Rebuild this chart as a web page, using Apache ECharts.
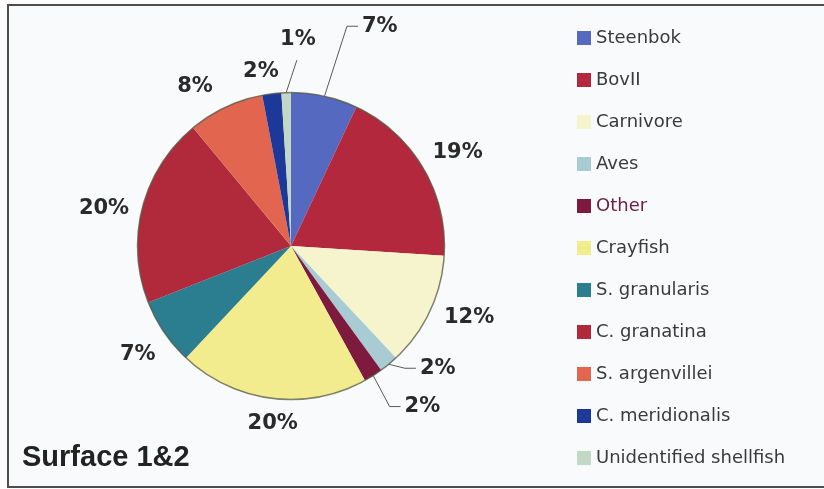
<!DOCTYPE html>
<html>
<head>
<meta charset="utf-8">
<script src="https://cdn.jsdelivr.net/npm/echarts@6/dist/echarts.min.js"></script>
<style>
  html, body { margin: 0; padding: 0; background: #fcfcfc; }
  #chart { width: 824px; height: 489px; }
</style>
</head>
<body>
<div id="chart"></div>
<script>
// Faunal composition, Surface 1&2 (percent of total)
const categories = ['Steenbok', 'BovII', 'Carnivore', 'Aves', 'Other', 'Crayfish',
  'S. granularis', 'C. granatina', 'S. argenvillei', 'C. meridionalis', 'Unidentified shellfish'];
const shares = [7, 19, 12, 2, 2, 20, 7, 20, 8, 2, 1];
const sliceColours = ['#5469bf', '#b3283d', '#f6f4cd', '#a9cbd3', '#7d1a3e', '#f3ec8f',
  '#2b7d90', '#b02a3b', '#e2664f', '#1c3898', '#c2d8c6'];
const chartTitle = 'Surface 1&2';

// Pie geometry (pixels)
const CX = 291, CY = 246, R = 153.5;
// Label anchors: [angle clockwise from 12 o'clock in degrees, distance from centre]
const labelPolar = [[22, 237], [60.7, 191], [111.9, 192], [129.8, 191], [140.7, 207.5],
  [185.9, 178.5], [234.6, 188], [281.2, 190.6], [328.9, 185.7], [350.2, 176.6], [1.9, 207]];
// Which labels get a leader line
const leaderKind = ['elbow', null, null, 'elbow', 'elbow', null, null, null, null, null, 'straight'];

const total = shares.reduce((s, v) => s + v, 0);
function midAngle(i) {
  let cum = 0;
  for (let k = 0; k < i; k++) cum += shares[k];
  return (cum + shares[i] / 2) / total * 2 * Math.PI;
}

const chart = echarts.init(document.getElementById('chart'), null, { renderer: 'canvas' });

const option = {
  backgroundColor: '#fcfcfc',
  animation: false,
  graphic: [{
    type: 'rect',
    z: -10,
    shape: { x: 8, y: 5, width: 830, height: 482 },
    style: { fill: '#f9fafb', stroke: '#4d4d4d', lineWidth: 2 }
  }],
  title: {
    text: chartTitle,
    left: 22,
    top: 443,
    padding: 0,
    textStyle: { fontFamily: 'Liberation Sans', fontWeight: 'bold', fontSize: 29, color: '#222222' }
  },
  legend: {
    orient: 'vertical',
    left: 577,
    top: 28,
    padding: 0,
    itemWidth: 14,
    itemHeight: 14,
    itemGap: 22,
    icon: 'rect',
    selectedMode: false,
    textStyle: { fontFamily: 'DejaVu Sans', fontSize: 18, lineHeight: 20, color: '#3a3a3a' },
    data: categories.map(name => name === 'Other'
      ? { name, textStyle: { color: '#6e2141' } }
      : { name })
  },
  series: [{
    type: 'pie',
    center: [CX, CY],
    radius: [0, R],
    startAngle: 90,
    clockwise: true,
    avoidLabelOverlap: false,
    itemStyle: { borderWidth: 0 },
    label: {
      show: true,
      position: 'outside',
      formatter: '{c}%',
      fontFamily: 'DejaVu Sans',
      fontWeight: 'bold',
      fontSize: 21,
      color: '#2a2a2a'
    },
    labelLine: { show: false, smooth: false, lineStyle: { color: '#5a5a5a', width: 1 } },
    labelLayout: function (p) {
      const i = p.dataIndex;
      const a = labelPolar[i][0] * Math.PI / 180;
      const d = labelPolar[i][1];
      const x = CX + d * Math.sin(a);
      const y = CY - d * Math.cos(a);
      const out = { x: x, y: y, align: 'center', verticalAlign: 'middle' };
      const kind = leaderKind[i];
      if (kind) {
        const m = midAngle(i);
        const ex = CX + R * Math.sin(m), ey = CY - R * Math.cos(m);
        if (kind === 'elbow') {
          const left = x - p.labelRect.width / 2;
          out.labelLinePoints = [[ex, ey], [left - 15, y], [left - 4, y]];
        } else {
          const tx = x - 1, ty = y + 21;
          out.labelLinePoints = [[ex, ey], [(ex + tx) / 2, (ey + ty) / 2], [tx, ty]];
        }
      }
      return out;
    },
    emphasis: { disabled: true },
    data: categories.map((name, i) => ({
      name,
      value: shares[i],
      itemStyle: { color: sliceColours[i] },
      labelLine: { show: !!leaderKind[i] }
    }))
  }, {
    // thin rim around the pie
    type: 'pie',
    center: [CX, CY],
    radius: [0, R],
    silent: true,
    label: { show: false },
    labelLine: { show: false },
    itemStyle: { color: 'rgba(0,0,0,0)', borderColor: 'rgba(85,90,70,0.75)', borderWidth: 1.5 },
    emphasis: { disabled: true },
    data: [{ name: 'rim', value: 1 }]
  }]
};

chart.setOption(option);
</script>
</body>
</html>
